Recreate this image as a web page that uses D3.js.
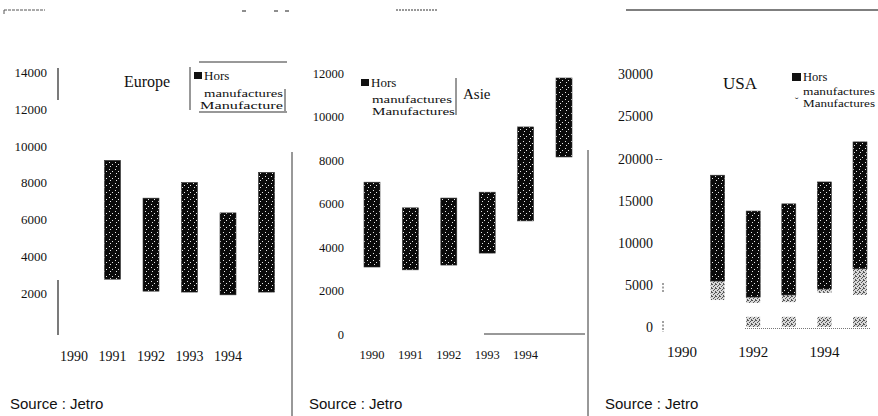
<!DOCTYPE html>
<html>
<head>
<meta charset="utf-8">
<script src="https://cdn.jsdelivr.net/npm/d3@7"></script>
<style>
  body { margin: 0; background: #fff; }
  svg { display: block; }
</style>
</head>
<body>
<svg id="chart" width="878" height="416"></svg>
<script>
// ---- Data -------------------------------------------------------------
const slotYears = ["1990", "1991", "1992", "1993", "1994", "1995"];
const tickYears = ["1990", "1991", "1992", "1993", "1994"];
const usaTickYears = ["1990", "1992", "1994"];

// Europe
const europeYears = ["1991", "1992", "1993", "1994", "1995"];
const europeManufacture = [2750, 2100, 2050, 1900, 2050];
const europeHors = [6450, 5050, 5950, 4450, 6500];
const europeTicks = [2000, 4000, 6000, 8000, 10000, 12000, 14000];

// Asie
const asieYears = ["1990", "1991", "1992", "1993", "1994", "1995"];
const asieManufactures = [3080, 2950, 3170, 3720, 5200, 8140];
const asieHors = [3900, 2850, 3080, 2800, 4320, 3630];
const asieTicks = [0, 2000, 4000, 6000, 8000, 10000, 12000];

// USA
const usaYears = ["1991", "1992", "1993", "1994", "1995"];
const usaBase = [0, 1200, 1200, 1200, 1200];
const usaGap = [3200, 1650, 1750, 2850, 2600];
const usaManufactures = [2250, 700, 850, 450, 3100];
const usaHors = [12550, 10200, 10800, 12700, 15050];
const usaTicks = [0, 5000, 10000, 15000, 20000, 25000, 30000];

// ---- Setup ------------------------------------------------------------
const svg = d3.select("#chart");
const serif = "'Liberation Serif', 'Times New Roman', serif";
const sans = "'Liberation Sans', Arial, sans-serif";

const defs = svg.append("defs");

// black fill with scattered white specks
const speck = defs.append("pattern").attr("id", "speck")
  .attr("patternUnits", "userSpaceOnUse").attr("width", 6).attr("height", 7);
speck.append("rect").attr("width", 6).attr("height", 7).attr("fill", "#0a0a0a");
[[1, 1], [4, 3], [2, 5]].forEach(([x, y]) =>
  speck.append("rect").attr("x", x).attr("y", y).attr("width", 1).attr("height", 1)
    .attr("fill", "#e8e8e8"));

// light grey stipple
const stip = defs.append("pattern").attr("id", "stipple")
  .attr("patternUnits", "userSpaceOnUse").attr("width", 4).attr("height", 4);
stip.append("rect").attr("width", 4).attr("height", 4).attr("fill", "#d8d8d8");
[[0, 0], [2, 1], [1, 2], [3, 3], [3, 0]].forEach(([x, y]) =>
  stip.append("rect").attr("x", x).attr("y", y).attr("width", 1).attr("height", 1)
    .attr("fill", "#555"));

function line(x1, y1, x2, y2, w = 1, c = "#222", dash = null) {
  const l = svg.append("line").attr("x1", x1).attr("y1", y1).attr("x2", x2).attr("y2", y2)
    .attr("stroke", c).attr("stroke-width", w);
  if (dash) l.attr("stroke-dasharray", dash);
  return l;
}
function text(x, y, s, size, opts = {}) {
  return svg.append("text").attr("x", x).attr("y", y).text(s)
    .style("font-family", opts.family || serif).style("font-size", size + "px")
    .attr("fill", opts.fill || "#111")
    .attr("text-anchor", opts.anchor || "start");
}

function yAxis(scale, ticks, x, size) {
  const g = svg.append("g").attr("transform", `translate(${x},0)`)
    .call(d3.axisLeft(scale).tickValues(ticks).tickSize(0).tickPadding(0)
      .tickFormat(d3.format("d")));
  g.select(".domain").remove();
  g.selectAll("text").style("font-family", serif).style("font-size", size + "px")
    .attr("fill", "#111").attr("dy", "0.34em");
  return g;
}
function xLabels(scale, labels, y, size) {
  svg.append("g").selectAll("text").data(labels).join("text")
    .attr("x", d => scale(d)).attr("y", y).attr("text-anchor", "middle")
    .style("font-family", serif).style("font-size", size + "px").attr("fill", "#111")
    .text(d => d);
}
function stackedBars(years, keys, cols, fills, x, y, w) {
  const rows = years.map((yr, i) => {
    const r = { year: yr };
    keys.forEach((k, j) => r[k] = cols[j][i]);
    return r;
  });
  const series = d3.stack().keys(keys)(rows);
  series.forEach((s, j) => {
    if (!fills[j]) return;
    svg.append("g").selectAll("rect").data(s).join("rect")
      .attr("x", d => x(d.data.year) - w / 2)
      .attr("y", d => y(d[1]))
      .attr("width", w)
      .attr("height", d => Math.max(0, y(d[0]) - y(d[1])))
      .attr("fill", fills[j])
      .attr("stroke", fills[j] === "url(#speck)" ? "#333" : "none")
      .attr("stroke-width", 0.6);
  });
}

// ---- Scan edge marks along the top ------------------------------------
line(4, 10, 45, 10, 1, "#555", "3,1");
line(4, 10, 4, 14, 1, "#555");
line(242, 11, 246, 11, 1.2, "#444");
line(274, 11, 278, 11, 1.2, "#444");
line(285, 11, 289, 11, 1.2, "#444");
line(396, 10, 437, 10, 1.5, "#777", "2,1");
line(626, 10, 878, 10, 1.6, "#555");

// panel separators
line(292, 152, 292, 416, 1, "#333");
line(588, 150, 588, 416, 1, "#333");

// ---- Europe -----------------------------------------------------------
{
  const x = d3.scalePoint().domain(slotYears).range([74, 266.5]);
  const y = d3.scaleLinear().domain([2000, 14000]).range([293, 72]);
  yAxis(y, europeTicks, 47, 13);
  line(58, 68, 58, 100, 1.2, "#222");
  line(58, 280, 58, 335, 1.2, "#222");
  stackedBars(europeYears, ["manufacture", "hors"], [europeManufacture, europeHors],
    [null, "url(#speck)"], x, y, 16);
  xLabels(x, tickYears, 361, 14);

  text(124, 87, "Europe", 16);
  line(190, 67, 190, 110, 1, "#333");
  line(199, 62, 287, 62, 1, "#333");
  line(199, 112, 287, 112, 1.2, "#333");
  line(285, 89, 285, 111, 1, "#333");
  svg.append("rect").attr("x", 194).attr("y", 72).attr("width", 8).attr("height", 7).attr("fill", "#111");
  text(204, 80, "Hors", 13);
  text(204, 97, "manufactures", 10.5).attr("textLength", 79).attr("lengthAdjust", "spacingAndGlyphs");
  text(200, 109, "Manufacture", 10.5).attr("textLength", 83).attr("lengthAdjust", "spacingAndGlyphs");
  text(10, 409, "Source : Jetro", 15, { family: sans });
}

// ---- Asie -------------------------------------------------------------
{
  const x = d3.scalePoint().domain(slotYears).range([372, 564]);
  const y = d3.scaleLinear().domain([0, 12000]).range([334, 73]);
  yAxis(y, asieTicks, 344, 12.5);
  stackedBars(asieYears, ["manufactures", "hors"], [asieManufactures, asieHors],
    [null, "url(#speck)"], x, y, 16);
  line(484, 334, 585, 334, 1, "#333");
  xLabels(x, tickYears, 359, 12.5);

  svg.append("rect").attr("x", 361).attr("y", 79).attr("width", 8).attr("height", 7).attr("fill", "#111");
  text(371, 87, "Hors", 13);
  text(372, 103, "manufactures", 10.5).attr("textLength", 80).attr("lengthAdjust", "spacingAndGlyphs");
  text(372, 115, "Manufactures", 10.5).attr("textLength", 83).attr("lengthAdjust", "spacingAndGlyphs");
  line(456, 78, 456, 115, 1, "#333");
  text(463, 99, "Asie", 15);
  text(309, 409, "Source : Jetro", 15, { family: sans });
}

// ---- USA --------------------------------------------------------------
{
  const x = d3.scalePoint().domain(slotYears).range([682, 860]);
  const y = d3.scaleLinear().domain([0, 30000]).range([327, 74]);
  yAxis(y, usaTicks, 653, 14);
  text(655, 162, "--", 11);
  line(663, 283, 663, 292, 1, "#444", "2,1.5");
  line(663, 321, 663, 332, 1, "#444", "2,1.5");
  stackedBars(usaYears, ["base", "gap", "manufactures", "hors"],
    [usaBase, usaGap, usaManufactures, usaHors],
    ["url(#stipple)", null, "url(#stipple)", "url(#speck)"], x, y, 14);
  line(745, 328.5, 870, 328.5, 1, "#777", "1,1");
  xLabels(x, usaTickYears, 357, 15);

  text(723, 89, "USA", 17);
  svg.append("rect").attr("x", 792).attr("y", 73).attr("width", 9).attr("height", 8).attr("fill", "#111");
  text(803, 81, "Hors", 12.5);
  text(803, 95, "manufactures", 10).attr("textLength", 72).attr("lengthAdjust", "spacingAndGlyphs");
  text(803, 107, "Manufactures", 10).attr("textLength", 72).attr("lengthAdjust", "spacingAndGlyphs");
  text(795, 105, "ˇ", 10);
  text(605, 409, "Source : Jetro", 15, { family: sans });
}
</script>
</body>
</html>
